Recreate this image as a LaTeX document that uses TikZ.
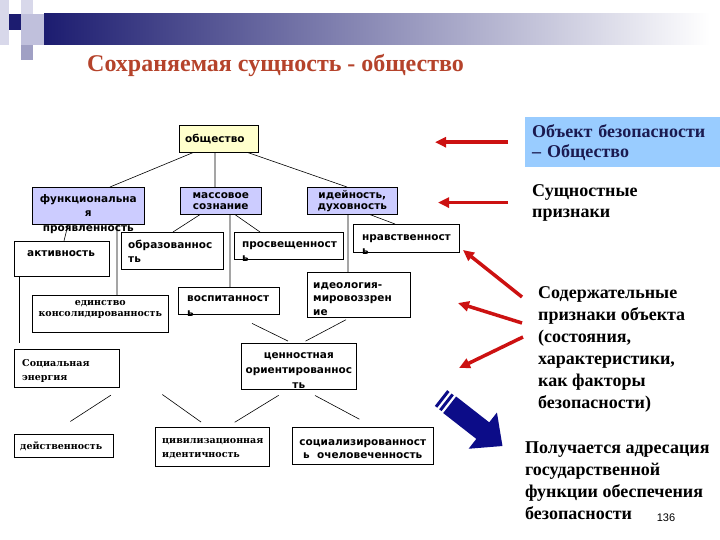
\documentclass[tikz,border=0pt]{standalone}
\usepackage{fontspec}
\setmainfont{Liberation Serif}
\newfontfamily\boxfont{DejaVu Sans}
\newfontfamily\oddfont{DejaVu Serif}
\newfontfamily\numfont{Liberation Sans}
\usetikzlibrary{arrows.meta,calc}
\definecolor{paleyellow}{HTML}{FFFFCC}
\definecolor{lavender}{HTML}{CCCCFF}
\definecolor{skyblue}{HTML}{99CCFF}
\definecolor{arrowred}{HTML}{CC1111}
\definecolor{navyarrow}{HTML}{0C0C88}
\definecolor{titlered}{HTML}{B5432B}
\definecolor{objtext}{HTML}{1A1A50}
\definecolor{barnavy}{HTML}{1C1C70}
\definecolor{bargray}{HTML}{A4A6C0}

\begin{document}
\begin{tikzpicture}[x=1pt,y=-1pt,
	cell/.style={draw, anchor=north west, inner sep=0pt, line width=0.6pt},
	sans/.style={font=\boxfont\bfseries\fontsize{10.5}{#1}\selectfont, inner sep=0pt, align=left},
	sans/.default=13,
	odd/.style={font=\oddfont\bfseries\fontsize{9.5}{#1}\selectfont, inner sep=0pt, align=left},
	odd/.default=12,
	note/.style={font=\bfseries\fontsize{18}{22}\selectfont, inner sep=0pt, align=left, anchor=north west},
	redarr/.style={draw=arrowred, line width=3.5pt, -{Triangle[length=11pt,width=10pt]}}]
	\useasboundingbox (0,0) rectangle (720,540);
	% header strip
	\fill[fill={rgb,255:red,216;green,216;blue,234}] (0,0) rectangle (9,45);
	\fill[fill={rgb,255:red,216;green,216;blue,234}] (21,0) rectangle (33,14);
	\fill[fill={rgb,255:red,192;green,192;blue,220}] (21,14) rectangle (44,45);
	\fill[fill={rgb,255:red,160;green,160;blue,196}] (21,45) rectangle (33,60);
	\fill[barnavy] (9,14) rectangle (21,30);
	\shade[left color=barnavy, middle color=bargray, right color=white] (44,14) rectangle (710,45);
	\node (title) at (87,66) [anchor=west, inner sep=0pt, text=titlered, font=\bfseries\fontsize{24}{28}\selectfont] {Сохраняемая сущность - общество};

	% tree
	\node (obsh) at (179,125) [cell, fill=paleyellow, minimum width=79pt, minimum height=27pt,
		label={[sans, anchor=west, xshift=6pt]west:общество}] {};
	\node (func) at (32,187) [cell, fill=lavender, minimum width=112pt, minimum height=37pt,
		label={[sans=14.5, align=center, anchor=north, yshift=-7pt]north:{функциональна\\я\\проявленность}}] {};
	\node (mass) at (180,187) [cell, fill=lavender, minimum width=81pt, minimum height=27pt,
		label={[sans=11, align=center]center:{массовое\\сознание}}] {};
	\node (idei) at (307,187) [cell, fill=lavender, minimum width=90pt, minimum height=27pt,
		label={[sans=11, align=center]center:{идейность,\\духовность}}] {};
	\node (akt) at (14,241) [cell, minimum width=95pt, minimum height=35pt,
		label={[sans, anchor=north west, xshift=13pt, yshift=-9pt]north west:активность}] {};
	\node (obraz) at (121,232) [cell, minimum width=102pt, minimum height=37pt,
		label={[sans=14, anchor=north west, xshift=7pt, yshift=-8pt]north west:{образованнос\\ть}}] {};
	\node (prosv) at (234,232) [cell, minimum width=109pt, minimum height=27pt,
		label={[sans=14, anchor=north west, xshift=8pt, yshift=-9pt]north west:{просвещенност\\ь}}] {};
	\node (nravs) at (353,224) [cell, minimum width=106pt, minimum height=28pt,
		label={[sans=14, anchor=north west, xshift=9pt, yshift=-10pt]north west:{нравственност\\ь}}] {};
	\node (vosp) at (178,287) [cell, minimum width=101pt, minimum height=27pt,
		label={[sans=15, anchor=north west, xshift=9pt, yshift=-8pt]north west:{воспитанност\\ь}}] {};
	\node (ideol) at (307,272) [cell, minimum width=103pt, minimum height=45pt,
		label={[sans=13.5, anchor=north west, xshift=6pt, yshift=-10pt]north west:{идеология-\\мировоззрен\\ие}}] {};
	\node (edin) at (32,295) [cell, minimum width=136pt, minimum height=37pt,
		label={[odd=11, align=center, anchor=north, yshift=-5pt]north:{единство\\консолидированность}}] {};
	\node (soc) at (14,349) [cell, minimum width=105pt, minimum height=38pt,
		label={[odd=14, anchor=north west, xshift=8pt, yshift=-10pt]north west:{Социальная\\энергия}}] {};
	\node (cenn) at (241,343) [cell, minimum width=115pt, minimum height=46pt,
		label={[sans=15, align=center, anchor=north, yshift=-9pt]north:{ценностная\\ориентированнос\\ть}}] {};
	\node (deyst) at (14,434) [cell, minimum width=99pt, minimum height=23pt,
		label={[odd, anchor=north west, xshift=6pt, yshift=-8pt]north west:действенность}] {};
	\node (civ) at (155,427) [cell, minimum width=114pt, minimum height=39pt,
		label={[odd=14, anchor=north west, xshift=7pt, yshift=-11pt]north west:{цивилизационная\\идентичность}}] {};
	\node (socz) at (292,427) [cell, minimum width=141pt, minimum height=37pt,
		label={[sans=13, align=center, anchor=north, yshift=-12pt]north:{социализированност\\ь \ очеловеченность}}] {};

	\draw[line width=0.6pt] ($(obsh.south west)+(14,0)$) -- ($(func.north west)+(78,0)$)
		($(obsh.south west)+(36,0)$) -- ($(mass.north west)+(35,0)$)
		($(obsh.south west)+(69,0)$) -- ($(idei.north west)+(40,0)$)
		($(func.south west)+(36,0)$) -- ($(akt.north west)+(50,0)$)
		($(func.south west)+(85,0)$) -- ($(edin.north west)+(85,0)$)
		($(mass.south west)+(20,0)$) -- ($(obraz.north west)+(52,0)$)
		($(mass.south west)+(55,0)$) -- ($(prosv.north west)+(26,0)$)
		($(mass.south west)+(50,0)$) -- ($(vosp.north west)+(52,0)$)
		($(idei.south west)+(63,0)$) -- ($(nravs.north west)+(42,0)$)
		($(idei.south west)+(41,0)$) -- ($(ideol.north west)+(41,0)$);
	\draw[line width=0.6pt, shorten >=6pt] ($(akt.south west)+(5,0)$) -- ($(soc.north west)+(5,0)$);
	\draw[line width=0.6pt, shorten <=20pt, shorten >=4.5pt] ($(vosp.south west)+(56,0)$) -- ($(cenn.north west)+(51,0)$);
	\draw[line width=0.6pt, shorten <=4.5pt, shorten >=4pt] ($(ideol.south west)+(43,0)$) -- ($(cenn.north west)+(61,0)$);
	\draw[line width=0.6pt, shorten <=14pt, shorten >=23pt] ($(soc.south east)+(3,0)$) -- ($(deyst.north west)+(37,0)$);
	\draw[line width=0.6pt, shorten <=12pt, shorten >=8.5pt] ($(soc.south east)+(33,0)$) -- ($(civ.north west)+(53,0)$);
	\draw[line width=0.6pt, shorten <=11pt, shorten >=9pt] ($(cenn.south west)+(47,0)$) -- ($(civ.north west)+(72,0)$);
	\draw[line width=0.6pt, shorten <=12.5pt, shorten >=16.5pt] ($(cenn.south west)+(63,0)$) -- ($(socz.north west)+(82,0)$);

	% right column
	\node (obj) at (525,117) [anchor=north west, fill=skyblue, minimum width=195pt, minimum height=50pt,
		inner xsep=7pt, inner ysep=0pt, text width=181pt, align=left, text=objtext,
		font=\bfseries\fontsize{18}{20}\selectfont] {Объект безопасности\\– Общество};
	\node (sush) at (532,184) [note, font=\bfseries\fontsize{18}{21}\selectfont] {Сущностные\\признаки};
	\node (soder) at (538,286) [note] {Содержательные\\признаки объекта\\(состояния,\\характеристики,\\как факторы\\безопасности)};
	\node (adres) at (525,442) [note] {Получается адресация\\государственной\\функции обеспечения\\безопасности};
	\node (pnum) at (666,518) [inner sep=0pt, font=\numfont\fontsize{11}{13}\selectfont] {136};

	\draw[redarr] ($(obj.west)+(-17,0)$) -- ++(-73,0);
	\draw[redarr] ($(sush.west)+(-24,0)$) -- ++(-70,0);
	\draw[redarr] ($(soder.north west)+(-16,11)$) -- ++(-59,-47);
	\draw[redarr] ($(soder.north west)+(-16,37)$) -- ++(-64,-20);
	\draw[redarr] ($(soder.north west)+(-15,51)$) -- ++(-64,31);

	\begin{scope}[shift={(441,398)}, rotate=-38]
		\fill[navyarrow] (0,-10) rectangle (3,10);
		\fill[navyarrow] (5.5,-10) rectangle (8.5,10);
		\fill[navyarrow] (11,-10.5) -- (53,-10.5) -- (53,-23) -- (78,0) -- (53,23) -- (53,10.5) -- (11,10.5) -- cycle;
	\end{scope}
\end{tikzpicture}
\end{document}
